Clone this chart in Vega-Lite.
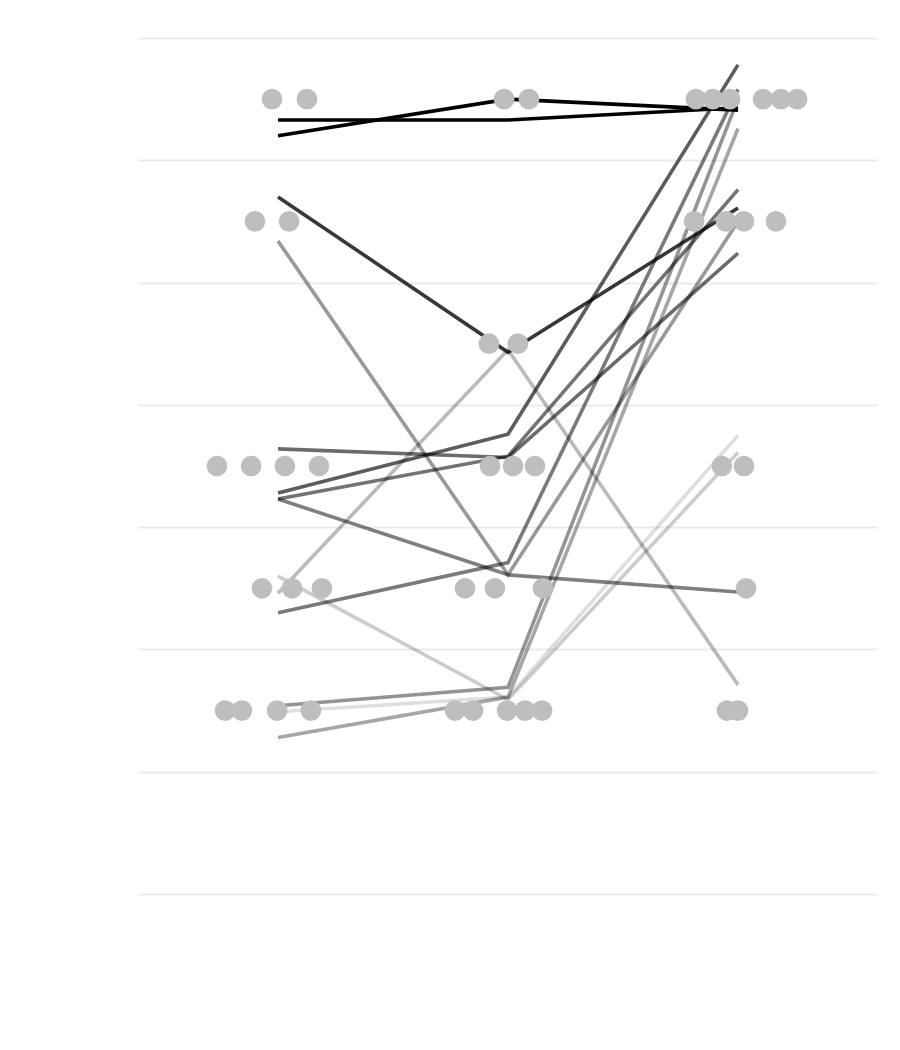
{
  "$schema": "https://vega.github.io/schema/vega-lite/v6.json",
  "width": 739,
  "height": 856,
  "autosize": {"type": "none"},
  "padding": {"left": 138, "top": 38, "right": 23, "bottom": 156},
  "background": "white",
  "config": {"view": {"stroke": null}},
  "datasets": {
    "lines": [
      {"id": "s01", "wave": 1, "score": 6.83}, {"id": "s01", "wave": 2, "score": 6.83}, {"id": "s01", "wave": 3, "score": 6.93},
      {"id": "s02", "wave": 1, "score": 6.70}, {"id": "s02", "wave": 2, "score": 7.00}, {"id": "s02", "wave": 3, "score": 6.91},
      {"id": "s03", "wave": 1, "score": 6.20}, {"id": "s03", "wave": 2, "score": 4.93}, {"id": "s03", "wave": 3, "score": 6.11},
      {"id": "s04", "wave": 1, "score": 5.84}, {"id": "s04", "wave": 2, "score": 3.11}, {"id": "s04", "wave": 3, "score": 6.00},
      {"id": "s05", "wave": 1, "score": 3.78}, {"id": "s05", "wave": 2, "score": 4.26}, {"id": "s05", "wave": 3, "score": 7.28},
      {"id": "s06", "wave": 1, "score": 4.14}, {"id": "s06", "wave": 2, "score": 4.07}, {"id": "s06", "wave": 3, "score": 5.74},
      {"id": "s07", "wave": 1, "score": 3.73}, {"id": "s07", "wave": 2, "score": 4.08}, {"id": "s07", "wave": 3, "score": 6.26},
      {"id": "s08", "wave": 1, "score": 3.73}, {"id": "s08", "wave": 2, "score": 3.11}, {"id": "s08", "wave": 3, "score": 2.97},
      {"id": "s09", "wave": 1, "score": 2.80}, {"id": "s09", "wave": 2, "score": 3.21}, {"id": "s09", "wave": 3, "score": 7.08},
      {"id": "s10", "wave": 1, "score": 2.96}, {"id": "s10", "wave": 2, "score": 4.95}, {"id": "s10", "wave": 3, "score": 2.21},
      {"id": "s11", "wave": 1, "score": 3.10}, {"id": "s11", "wave": 2, "score": 2.09}, {"id": "s11", "wave": 3, "score": 4.11},
      {"id": "s12", "wave": 1, "score": 1.99}, {"id": "s12", "wave": 2, "score": 2.11}, {"id": "s12", "wave": 3, "score": 4.25},
      {"id": "s13", "wave": 1, "score": 2.04}, {"id": "s13", "wave": 2, "score": 2.19}, {"id": "s13", "wave": 3, "score": 7.00},
      {"id": "s14", "wave": 1, "score": 1.78}, {"id": "s14", "wave": 2, "score": 2.11}, {"id": "s14", "wave": 3, "score": 6.76}
    ],
    "dots": [
      {"pos": 0.974, "level": 7}, {"pos": 1.126, "level": 7},
      {"pos": 0.900, "level": 6}, {"pos": 1.048, "level": 6},
      {"pos": 0.735, "level": 4}, {"pos": 0.883, "level": 4}, {"pos": 1.030, "level": 4}, {"pos": 1.178, "level": 4},
      {"pos": 0.930, "level": 3}, {"pos": 1.061, "level": 3}, {"pos": 1.191, "level": 3},
      {"pos": 0.770, "level": 2}, {"pos": 0.843, "level": 2}, {"pos": 0.996, "level": 2}, {"pos": 1.143, "level": 2},
      {"pos": 1.983, "level": 7}, {"pos": 2.091, "level": 7},
      {"pos": 1.917, "level": 5}, {"pos": 2.043, "level": 5},
      {"pos": 1.922, "level": 4}, {"pos": 2.022, "level": 4}, {"pos": 2.117, "level": 4},
      {"pos": 1.813, "level": 3}, {"pos": 1.943, "level": 3}, {"pos": 2.152, "level": 3},
      {"pos": 1.770, "level": 2}, {"pos": 1.848, "level": 2}, {"pos": 1.996, "level": 2}, {"pos": 2.074, "level": 2}, {"pos": 2.148, "level": 2},
      {"pos": 2.817, "level": 7}, {"pos": 2.891, "level": 7}, {"pos": 2.965, "level": 7}, {"pos": 3.109, "level": 7}, {"pos": 3.187, "level": 7}, {"pos": 3.257, "level": 7},
      {"pos": 2.809, "level": 6}, {"pos": 2.948, "level": 6}, {"pos": 3.026, "level": 6}, {"pos": 3.165, "level": 6},
      {"pos": 2.930, "level": 4}, {"pos": 3.026, "level": 4},
      {"pos": 3.035, "level": 3},
      {"pos": 2.952, "level": 2}, {"pos": 3.000, "level": 2}
    ]
  },
  "encoding": {
    "y": {
      "type": "quantitative",
      "scale": {"domain": [0.5, 7.5], "zero": false, "nice": false},
      "axis": {
        "values": [0.5, 1.5, 2.5, 3.5, 4.5, 5.5, 6.5, 7.5],
        "grid": true, "gridColor": "#ebebeb", "gridWidth": 2,
        "labels": false, "ticks": false, "domain": false, "title": null
      }
    }
  },
  "layer": [
    {
      "data": {"name": "lines"},
      "mark": {"type": "line", "strokeWidth": 3.6, "color": "black"},
      "encoding": {
        "x": {"field": "wave", "type": "quantitative", "scale": {"domain": [0.3913, 3.6043], "zero": false, "nice": false}, "axis": null},
        "y": {"field": "score"},
        "detail": {"field": "id"},
        "order": {"field": "wave"},
        "strokeOpacity": {
          "field": "id", "type": "ordinal", "legend": null,
          "scale": {
            "type": "ordinal",
            "domain": ["s01","s02","s03","s04","s05","s06","s07","s08","s09","s10","s11","s12","s13","s14"],
            "range": [1, 1, 0.78, 0.4, 0.64, 0.58, 0.55, 0.5, 0.52, 0.27, 0.2, 0.13, 0.42, 0.35]
          }
        }
      }
    },
    {
      "data": {"name": "dots"},
      "mark": {"type": "circle", "size": 430, "color": "#bebebe", "opacity": 1},
      "encoding": {
        "x": {"field": "pos", "type": "quantitative", "scale": {"domain": [0.3913, 3.6043], "zero": false, "nice": false}, "axis": null},
        "y": {"field": "level"}
      }
    }
  ]
}
